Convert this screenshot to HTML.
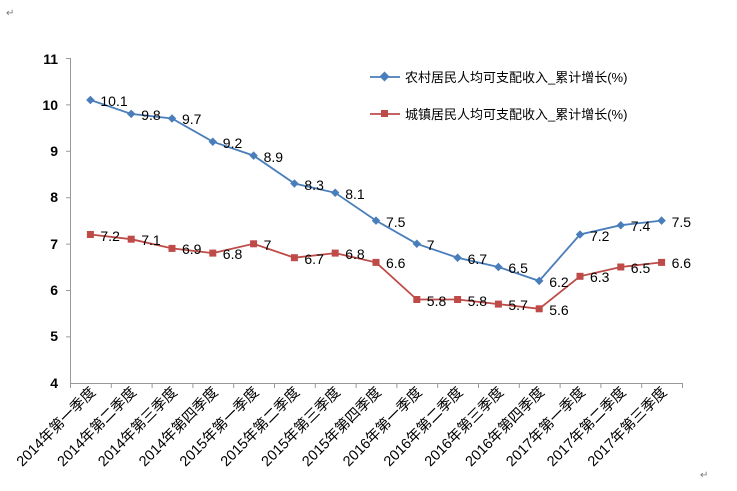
<!DOCTYPE html>
<html><head><meta charset="utf-8"><style>
body{margin:0;background:#fff}
svg text{font-family:"Liberation Sans","Noto Sans CJK SC",sans-serif}
</style></head><body>
<svg width="737" height="486" xmlns="http://www.w3.org/2000/svg">
<defs>
<marker id="mb" markerUnits="userSpaceOnUse" markerWidth="12" markerHeight="12" refX="6" refY="6" orient="0"><rect x="3" y="3" width="6" height="6" fill="#4a7ebb" transform="rotate(45 6 6)"/></marker>
<marker id="mr" markerUnits="userSpaceOnUse" markerWidth="12" markerHeight="12" refX="6" refY="6" orient="0"><rect x="2.5" y="2.5" width="7" height="7" fill="#be4b48"/></marker>
</defs>
<text x="6" y="16" font-size="10" fill="#777">↵</text>
<text x="700" y="478" font-size="10" fill="#777">↵</text>
<g stroke="#999" stroke-width="1" fill="none">
<line x1="70.5" y1="58" x2="70.5" y2="383"/>
<line x1="70" y1="383.5" x2="682" y2="383.5"/>
<path d="M70.5 383v5M111.3 383v5M152.1 383v5M192.9 383v5M233.7 383v5M274.5 383v5M315.3 383v5M356.1 383v5M396.9 383v5M437.7 383v5M478.5 383v5M519.3 383v5M560.1 383v5M600.9 383v5M641.7 383v5M682.5 383v5M66 58.5h4.5M66 104.9h4.5M66 151.3h4.5M66 197.7h4.5M66 244.1h4.5M66 290.5h4.5M66 336.9h4.5"/>
</g>
<g font-size="14" fill="#000" text-anchor="end" font-weight="bold">
<text x="58" y="64">11</text><text x="58" y="110">10</text><text x="58" y="156">9</text>
<text x="58" y="202">8</text><text x="58" y="249">7</text><text x="58" y="295">6</text>
<text x="58" y="341">5</text><text x="58" y="388">4</text>
</g>
<g font-size="14.5" text-anchor="end">
<text x="96.4" y="393" transform="rotate(-45 96.4 393)">2014年第一季度</text>
<text x="137.2" y="393" transform="rotate(-45 137.2 393)">2014年第二季度</text>
<text x="178" y="393" transform="rotate(-45 178 393)">2014年第三季度</text>
<text x="218.8" y="393" transform="rotate(-45 218.8 393)">2014年第四季度</text>
<text x="259.6" y="393" transform="rotate(-45 259.6 393)">2015年第一季度</text>
<text x="300.4" y="393" transform="rotate(-45 300.4 393)">2015年第二季度</text>
<text x="341.2" y="393" transform="rotate(-45 341.2 393)">2015年第三季度</text>
<text x="382" y="393" transform="rotate(-45 382 393)">2015年第四季度</text>
<text x="422.8" y="393" transform="rotate(-45 422.8 393)">2016年第一季度</text>
<text x="463.6" y="393" transform="rotate(-45 463.6 393)">2016年第二季度</text>
<text x="504.4" y="393" transform="rotate(-45 504.4 393)">2016年第三季度</text>
<text x="545.2" y="393" transform="rotate(-45 545.2 393)">2016年第四季度</text>
<text x="586" y="393" transform="rotate(-45 586 393)">2017年第一季度</text>
<text x="626.8" y="393" transform="rotate(-45 626.8 393)">2017年第二季度</text>
<text x="667.6" y="393" transform="rotate(-45 667.6 393)">2017年第三季度</text>
</g>
<polyline fill="none" stroke="#4a7ebb" stroke-width="1.8" marker-start="url(#mb)" marker-mid="url(#mb)" marker-end="url(#mb)" points="90.4,100 131.2,113.9 172,118.5 212.8,141.7 253.6,155.6 294.4,183.5 335.2,192.8 376,220.6 416.8,243.8 457.6,257.7 498.4,267 539.2,280.9 580,234.5 620.8,225.2 661.6,220.6"/>
<polyline fill="none" stroke="#be4b48" stroke-width="1.8" marker-start="url(#mr)" marker-mid="url(#mr)" marker-end="url(#mr)" points="90.4,234.5 131.2,239.2 172,248.4 212.8,253.1 253.6,243.8 294.4,257.7 335.2,253.1 376,262.4 416.8,299.5 457.6,299.5 498.4,304.1 539.2,308.8 580,276.3 620.8,267 661.6,262.4"/>
<g font-size="14">
<text x="100.4" y="106">10.1</text><text x="141.2" y="120">9.8</text><text x="182" y="124">9.7</text>
<text x="222.8" y="148">9.2</text><text x="263.6" y="162">8.9</text><text x="304.4" y="190">8.3</text>
<text x="345.2" y="199">8.1</text><text x="386" y="227">7.5</text><text x="426.8" y="250">7</text>
<text x="467.6" y="264">6.7</text><text x="508.4" y="273">6.5</text><text x="549.2" y="287">6.2</text>
<text x="590" y="241">7.2</text><text x="630.8" y="231">7.4</text><text x="671.6" y="227">7.5</text>
<text x="100.4" y="241">7.2</text><text x="141.2" y="245">7.1</text><text x="182" y="254">6.9</text>
<text x="222.8" y="259">6.8</text><text x="263.6" y="250">7</text><text x="304.4" y="264">6.7</text>
<text x="345.2" y="259">6.8</text><text x="386" y="268">6.6</text><text x="426.8" y="306">5.8</text>
<text x="467.6" y="306">5.8</text><text x="508.4" y="310">5.7</text><text x="549.2" y="315">5.6</text>
<text x="590" y="282">6.3</text><text x="630.8" y="273">6.5</text><text x="671.6" y="268">6.6</text>
</g>
<line x1="370" y1="77" x2="400" y2="77" stroke="#4a7ebb" stroke-width="1.8"/>
<rect x="381" y="73" width="7" height="7" fill="#4a7ebb" transform="rotate(45 384.5 76.5)"/>
<text x="405" y="82" font-size="13">农村居民人均可支配收入_累计增长(%)</text>
<line x1="370" y1="114" x2="400" y2="114" stroke="#be4b48" stroke-width="1.8"/>
<rect x="381" y="110" width="7" height="7" fill="#be4b48"/>
<text x="405" y="119" font-size="13">城镇居民人均可支配收入_累计增长(%)</text>
</svg>
</body></html>
